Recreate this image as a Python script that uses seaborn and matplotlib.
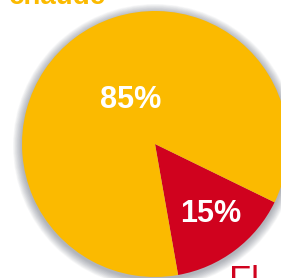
import matplotlib
matplotlib.use("Agg")
import matplotlib.pyplot as plt
import seaborn as sns
import numpy as np

labels = ["15%", "85%"]
values = [15, 85]
colors = ["#D0021E", "#FBBA00"]

sns.set_theme(style="white")
plt.rcParams['font.family'] = ['Liberation Sans', 'DejaVu Sans']

fig = plt.figure(figsize=(2.81, 2.78), dpi=100)
ax = fig.add_axes([0, 0, 1, 1])

cx, cy, r = 155, 278 - 144, 133

# soft shadow
for dr in np.linspace(9, 0.5, 14):
    c = plt.Circle((cx, cy - 2), r + dr, color="#4a5060", alpha=0.035, lw=0, zorder=0)
    ax.add_patch(c)

wedges, _ = ax.pie(values, colors=colors, startangle=-80, counterclock=True,
                   radius=r, center=(cx, cy), wedgeprops=dict(linewidth=0),
                   frame=True)
for w in wedges:
    w.set_zorder(2)

ax.text(131, 278 - 100, "85%", color="white", fontsize=22, fontweight="bold",
        ha="center", va="center", zorder=3)
ax.text(211, 278 - 214, "15%", color="white", fontsize=22, fontweight="bold",
        ha="center", va="center", zorder=3)

ax.text(9, 278 - 4, "chaude", color="#FBBA00", fontsize=20, fontweight="bold",
        ha="left", va="baseline", zorder=3)
ax.text(229, 278 - 292, "Fl", color="#D0021E", fontsize=26,
        ha="left", va="baseline", zorder=3)

ax.set_xlim(0, 281)
ax.set_ylim(0, 278)
ax.set_aspect("auto")
ax.axis("off")

fig.savefig("out.png", dpi=100)
